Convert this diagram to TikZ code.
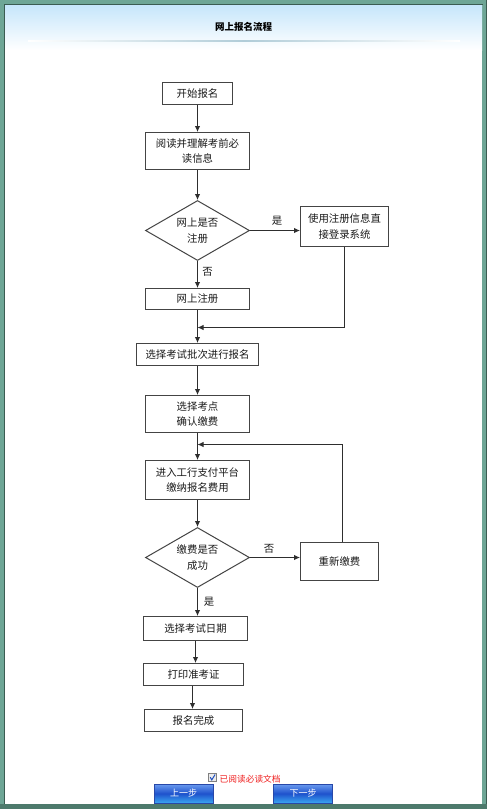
\documentclass[tikz,border=0pt]{standalone}
\usepackage{fontspec}
\newfontfamily\cjk{Noto Sans CJK SC}
\usetikzlibrary{arrows.meta,shapes.geometric,calc}
\definecolor{frameteal}{HTML}{6EA696}
\definecolor{framedark}{HTML}{3B5C52}
\definecolor{framebot}{HTML}{4D7A6C}
\definecolor{hdrtop}{HTML}{C6E6FB}
\definecolor{hdrline}{HTML}{B0CCD8}
\definecolor{boxgray}{HTML}{444444}
\definecolor{linegray}{HTML}{2E2E2E}
\definecolor{txt}{HTML}{1A1A1A}
\definecolor{btntop}{HTML}{6B9CF0}
\definecolor{btnmid}{HTML}{1F52CC}
\definecolor{btnbot}{HTML}{3AA6F2}
\definecolor{btnborder}{HTML}{2848A8}
\definecolor{chkblue}{HTML}{2050C0}
\definecolor{agreered}{HTML}{F02020}
\begin{document}
\begin{tikzpicture}[x=1pt,y=-1pt,
  box/.style={draw=boxgray,line width=1pt,fill=white,inner sep=0pt,align=center,
    font=\cjk\fontsize{10.4}{15.5}\selectfont,text=txt},
  dia/.style={diamond,aspect=1.75,draw=boxgray,line width=1pt,fill=white,inner sep=0pt,
    minimum width=104pt,minimum height=60pt,align=center,
    font=\cjk\fontsize{10.4}{15.5}\selectfont,text=txt},
  arr/.style={draw=linegray,line width=1pt,-{Latex[length=6pt,width=5.5pt]}},
  lbl/.style={font=\cjk\fontsize{10.4}{12}\selectfont,text=txt,inner sep=0pt},
  btn/.style={draw=btnborder,line width=0.8pt,top color=btntop,bottom color=btnbot,
    middle color=btnmid,minimum width=59pt,minimum height=19pt,inner sep=0pt,
    font=\cjk\fontsize{9}{11}\selectfont,text=white}
]
\useasboundingbox (0,0) rectangle (487,809);
% frame
\fill[frameteal] (0,0) rectangle (487,809);
\fill[white] (5,5) rectangle (482,804);
\shade[top color=hdrtop,bottom color=white] (5,5) rectangle (482,50);
\draw[framedark,line width=1pt] (4.5,804) -- (4.5,4.5) -- (482.5,4.5);
\draw[framedark,line width=1pt] (486.5,0) -- (486.5,809);
\fill[framebot] (0,804) rectangle (487,809);
\shade[left color=white,right color=white,middle color=hdrline] (28,40.2) rectangle (460,41.6);
\node[font=\cjk\bfseries\fontsize{9.5}{11}\selectfont,text=black,inner sep=0pt] (title) at (243.5,27) {网上报名流程};

% nodes
\node[box,minimum width=70pt,minimum height=22pt] (start) at (197.5,93.5) {开始报名};
\node[box,minimum width=104pt,minimum height=37pt] (read) at (197.5,151) {阅读并理解考前必\\读信息};
\node[dia] (d1) at (197.5,230.5) {网上是否\\注册};
\node[box,minimum width=88pt,minimum height=40pt] (login) at (344.5,226.5) {使用注册信息直\\接登录系统};
\node[box,minimum width=104pt,minimum height=21pt] (reg) at (197.5,299) {网上注册};
\node[box,minimum width=122pt,minimum height=22pt] (batch) at (197.5,354.5) {选择考试批次进行报名};
\node[box,minimum width=104pt,minimum height=37pt] (site) at (197.5,414) {选择考点\\确认缴费};
\node[box,minimum width=104pt,minimum height=39pt] (pay) at (197.5,480) {进入工行支付平台\\缴纳报名费用};
\node[dia] (d2) at (197.5,557.5) {缴费是否\\成功};
\node[box,minimum width=78pt,minimum height=38pt] (redo) at (339.5,561.5) {重新缴费};
\node[box,minimum width=104pt,minimum height=24pt] (date) at (195.5,628.5) {选择考试日期};
\node[box,minimum width=100pt,minimum height=22pt] (print) at (193.5,674.5) {打印准考证};
\node[box,minimum width=98pt,minimum height=22pt] (done) at (193.5,720.5) {报名完成};

\coordinate (m1) at (197.5,327.5);
\coordinate (m2) at (197.5,444.5);

% connectors
\draw[arr] (start.south) -- (read.north);
\draw[arr] (read.south) -- (d1.north);
\draw[arr] (d1.east) -- (login.west |- d1.east);
\node[lbl] (yes1) at (277,221) {是};
\draw[arr] (d1.south) -- (reg.north);
\node[lbl] (no1) at (207.5,272) {否};
\draw[arr] (login.south) |- (m1);
\draw[arr] (reg.south) -- (batch.north);
\draw[arr] (batch.south) -- (site.north);
\draw[arr] (site.south) -- (pay.north);
\draw[arr] ([xshift=3pt]redo.north) |- (m2);
\draw[arr] (pay.south) -- (d2.north);
\draw[arr] (d2.east) -- (redo.west |- d2.east);
\node[lbl] (no2) at (269,548.5) {否};
\draw[arr] (d2.south) -- (d2.south |- date.north);
\node[lbl] (yes2) at (209,601.5) {是};
\draw[arr] (date.south) -- (date.south |- print.north);
\draw[arr] ([xshift=-1pt]print.south) -- ([xshift=-1pt]print.south |- done.north);

% bottom controls
\node[draw=gray,line width=0.6pt,fill=black!8,minimum size=8.5pt,inner sep=0pt] (chk) at (212.5,777.5) {};
\draw[chkblue,line width=1pt] ([shift={(-2.3,-0.3)}]chk.center) -- ([shift={(-0.7,2.4)}]chk.center) -- ([shift={(2.6,-3)}]chk.center);
\node[font=\cjk\fontsize{8.7}{10}\selectfont,text=agreered,inner sep=0pt,anchor=west] (agree) at (219.5,779) {已阅读必读文档};
\node[btn] (prev) at (183.5,793.5) {上一步};
\node[btn] (next) at (303,793.5) {下一步};
\end{tikzpicture}
\end{document}
